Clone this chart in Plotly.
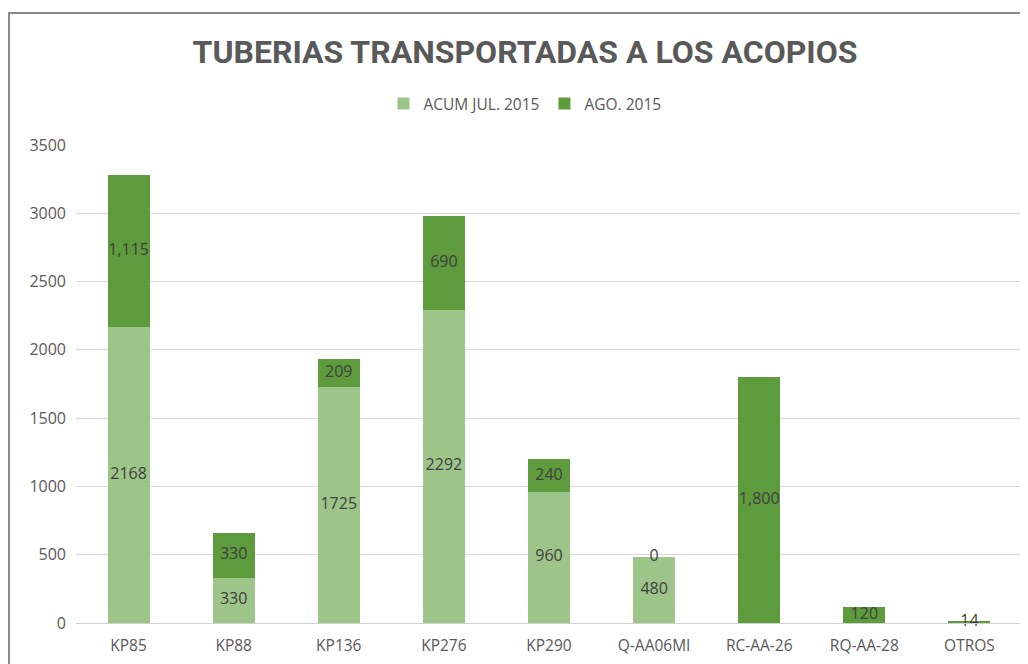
import plotly.graph_objects as go

categories = ["KP85", "KP88", "KP136", "KP276", "KP290", "Q-AA06MI", "RC-AA-26", "RQ-AA-28", "OTROS"]
acum_jul = [2168, 330, 1725, 2292, 960, 480, None, None, None]
ago = [1115, 330, 209, 690, 240, 0, 1800, 120, 14]
y_ticks = [0, 500, 1000, 1500, 2000, 2500, 3000, 3500]

COL_ACUM = "#9dc589"
COL_AGO = "#5e9b3c"
TXT = "#404040"
GREY = "#595959"
FONT = "Open Sans"

# page body has an 8px margin; figure coordinates = screen - 8
W, H = 1020, 656
ML, MR, MT, MB = 68, 6, 137, 41
PW, PH = W - ML - MR, H - MT - MB

fig = go.Figure()
fig.add_trace(go.Bar(x=categories, y=acum_jul, name="ACUM JUL. 2015",
                     marker=dict(color=COL_ACUM, line=dict(width=0)), width=0.4))
fig.add_trace(go.Bar(x=categories, y=ago, name="AGO. 2015",
                     marker=dict(color=COL_AGO, line=dict(width=0)), width=0.4))

# data labels at segment centres
a_vals = [v or 0 for v in acum_jul]
acum_mid_x, acum_mid_y, acum_txt = [], [], []
for c, v in zip(categories, acum_jul):
    if v:
        acum_mid_x.append(c); acum_mid_y.append(v / 2); acum_txt.append(str(v))
ago_mid_y = [a + g / 2 for a, g in zip(a_vals, ago)]
ago_txt = [f"{g:,}" for g in ago]

fig.add_trace(go.Scatter(x=acum_mid_x, y=acum_mid_y, text=acum_txt, mode="text",
                         textfont=dict(family=FONT, size=16, color=TXT),
                         showlegend=False, hoverinfo="skip", cliponaxis=False))
fig.add_trace(go.Scatter(x=categories, y=ago_mid_y, text=ago_txt, mode="text",
                         textfont=dict(family=FONT, size=16, color=TXT),
                         showlegend=False, hoverinfo="skip", cliponaxis=False))

# outer chart border
fig.add_shape(type="rect", xref="paper", yref="paper",
              x0=(1 - ML) / PW, x1=(W + 10 - ML) / PW,
              y0=-(MB + 10) / PH, y1=(H - MB - 5) / PH,
              line=dict(color="#8a8a8a", width=2), fillcolor="rgba(0,0,0,0)", layer="below")

fig.update_layout(
    width=W, height=H,
    margin=dict(l=ML, r=MR, t=MT, b=MB),
    paper_bgcolor="white", plot_bgcolor="white",
    barmode="stack",
    title=dict(text="<b>TUBERIAS TRANSPORTADAS A LOS ACOPIOS</b>",
               font=dict(family="Roboto", size=32, color=GREY),
               x=517 / W, xanchor="center", y=1 - 44 / H, yanchor="middle", yref="container"),
    legend=dict(orientation="h", x=(517 - ML) / PW, xanchor="center",
                y=(H - MB - 96) / PH, yanchor="middle",
                font=dict(family=FONT, size=15.5, color=GREY), traceorder="normal",
                itemwidth=30),
    xaxis=dict(showgrid=False, showline=True, linecolor="#d0d0d0", linewidth=1,
               tickfont=dict(family=FONT, size=15.5, color=GREY), ticks="",
               ticklabelstandoff=8),
    yaxis=dict(range=[0, 3500], tickvals=y_ticks, showgrid=True, gridcolor="#d9d9d9",
               gridwidth=1, zeroline=False, showline=False,
               tickfont=dict(family=FONT, size=16, color=GREY), ticks="", ticklabelstandoff=9),
    showlegend=True,
)

fig.write_html("out.html")
